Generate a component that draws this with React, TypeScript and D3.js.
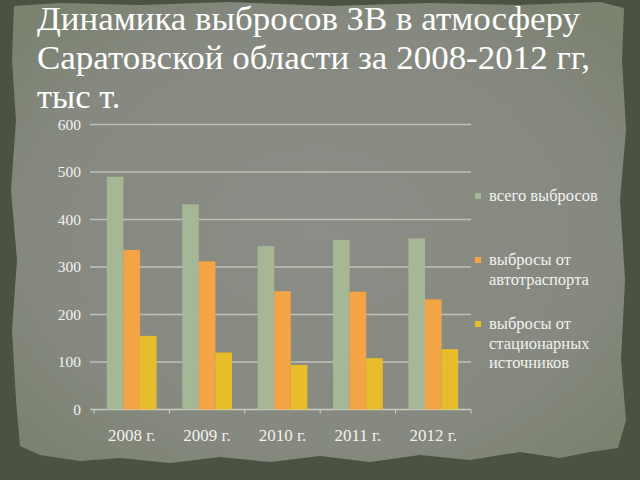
import React from "react";
import { scaleBand, scaleLinear, range } from "d3";

const categories = ["2008 г.", "2009 г.", "2010 г.", "2011 г.", "2012 г."];
const seriesNames = ["всего выбросов", "выбросы от автотраспорта", "выбросы от стационарных источников"];
const totalValues = [490, 432, 344, 357, 360];
const transportValues = [336, 312, 249, 248, 232];
const stationaryValues = [155, 120, 94, 108, 127];
const yTicks = [0, 100, 200, 300, 400, 500, 600];
const titleLines = ["Динамика выбросов ЗВ в атмосферу", "Саратовской области за 2008-2012 гг,", "тыс т."];
const legendLines = [["всего выбросов"], ["выбросы от", "автотраспорта"], ["выбросы от", "стационарных", "источников"]];
const colors = ["#a5b795", "#f3a444", "#e7bd2b"];

const W = 640, H = 480;
const margin = { left: 94, right: 169, top: 124.5, bottom: 70.5 };
const FONT = "Liberation Serif";

export default function App() {
  const series = [totalValues, transportValues, stationaryValues];
  const x = scaleBand<string>().domain(categories).range([margin.left, W - margin.right]).paddingInner(0.34).paddingOuter(0.17);
  const x1 = scaleBand<number>().domain([0, 1, 2]).range([0, x.bandwidth()]).padding(0);
  const y = scaleLinear().domain([0, 600]).range([H - margin.bottom, margin.top]);
  const step = x.step();
  const boundaryOffset = (x.paddingOuter() - x.paddingInner() / 2) * step;
  const paper = "M14,6 L60,3 L140,5 L230,2 L330,6 L430,3 L520,5 L600,2 L624,8 L622,60 L626,130 L620,200 L625,280 L621,360 L626,420 L618,448 L590,452 L560,458 L520,452 L470,460 L420,455 L370,462 L320,456 L270,462 L220,457 L170,463 L120,458 L80,461 L40,455 L20,446 L16,400 L12,330 L17,260 L11,190 L16,120 L12,60 Z";
  const ts = { fontFamily: FONT };
  const titleY = [30, 69, 108];
  const titleW = [543, 553, 0];
  return (
    <svg width={W} height={H} style={{ display: "block", position: "absolute", left: 0, top: 0, fontFamily: FONT }}>
      <defs>
        <radialGradient id="pg" cx="50%" cy="50%" r="65%">
          <stop offset="0%" stopColor="#8b8d86" />
          <stop offset="70%" stopColor="#868980" />
          <stop offset="100%" stopColor="#7b8270" />
        </radialGradient>
      </defs>
      <rect width={W} height={H} fill="#4a5341" />
      <path d={paper} fill="url(#pg)" />
      {titleLines.map((t, i) => (
        <text key={"h" + i} x={37} y={titleY[i]} fontSize={34.5} fill="#ffffff" fontFamily={FONT} style={ts}
          {...(titleW[i] ? { textLength: titleW[i], lengthAdjust: "spacingAndGlyphs" } : {})}>{t}</text>
      ))}
      {yTicks.map((t) => (
        <line key={"g" + t} x1={margin.left - 4} x2={W - margin.right} y1={y(t)} y2={y(t)} stroke="#d2d4cb" strokeWidth={1.5} opacity={t === 0 ? 0.9 : 0.75} />
      ))}
      {yTicks.map((t) => (
        <text key={"t" + t} x={81} y={y(t) + 5} textAnchor="end" fontSize={15.5} fill="#f2f2ee" fontFamily={FONT} style={ts}>{t}</text>
      ))}
      {range(categories.length + 1).map((i) => (
        <line key={"k" + i} x1={margin.left + i * step - boundaryOffset} x2={margin.left + i * step - boundaryOffset} y1={y(0)} y2={y(0) + 4} stroke="#d2d4cb" strokeWidth={1} />
      ))}
      {categories.map((c, ci) =>
        series.map((s, si) => (
          <rect key={c + si} x={(x(c) as number) + (x1(si) as number)} width={x1.bandwidth()} y={y(s[ci])} height={y(0) - y(s[ci])} fill={colors[si]} />
        ))
      )}
      {categories.map((c) => (
        <text key={"c" + c} x={(x(c) as number) + x.bandwidth() / 2} y={441} textAnchor="middle" fontSize={17} fill="#f2f2ee" fontFamily={FONT} style={ts}>{c}</text>
      ))}
      {legendLines.map((lines, i) => (
        <rect key={"lr" + i} x={475} y={[196, 260, 324][i] - 3} width={6} height={6} fill={colors[i]}>
          <title>{seriesNames[i]}</title>
        </rect>
      ))}
      {legendLines.map((lines, i) =>
        lines.map((l, j) => (
          <text key={"lt" + i + j} x={489} y={[196, 260, 324][i] + j * 19.5 + 5} fontSize={16.5} fill="#f2f2ee" fontFamily={FONT} style={ts}>{l}</text>
        ))
      )}
    </svg>
  );
}
